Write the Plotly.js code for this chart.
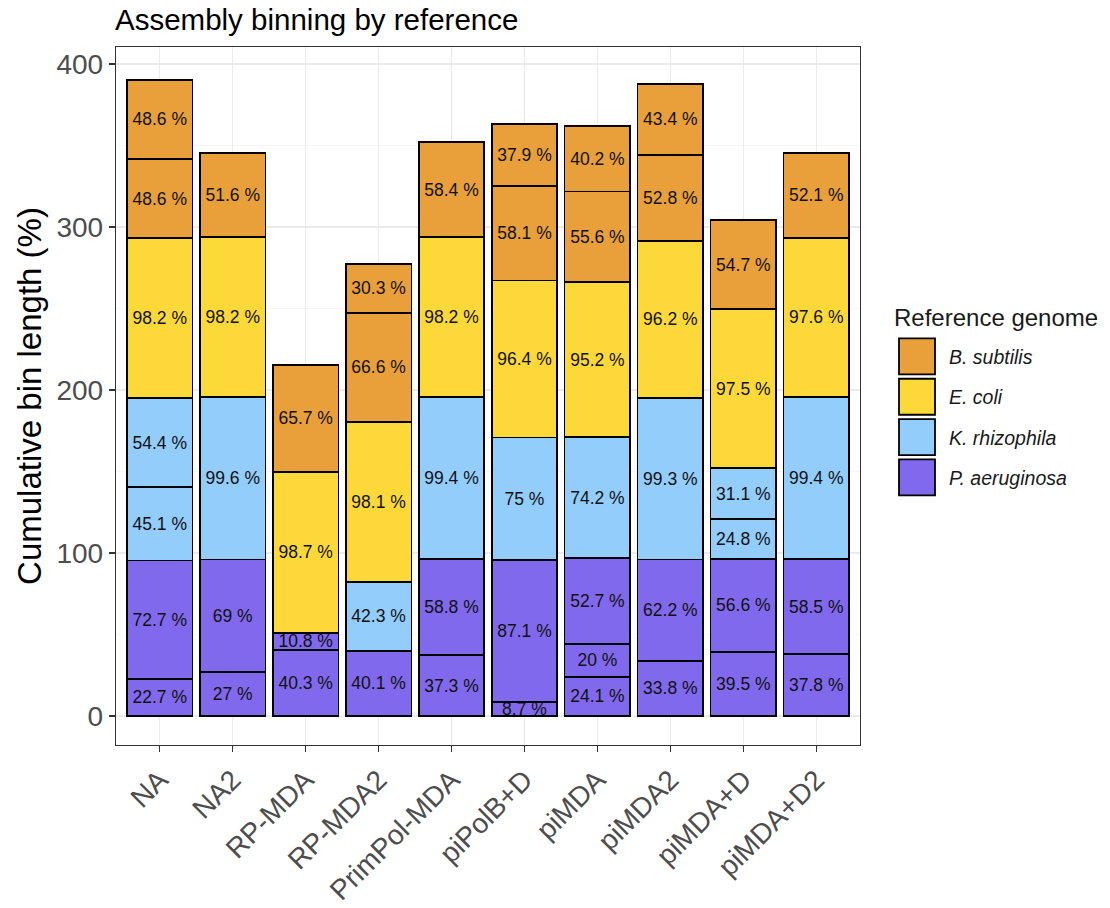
<!DOCTYPE html>
<html>
<head>
<meta charset="utf-8">
<script src="https://cdn.plot.ly/plotly-3.0.1.min.js"></script>
<style>html,body{margin:0;padding:0;background:#fff;}#chart{width:1110px;height:908px;}</style>
</head>
<body>
<div id="chart"></div>
<script>
// Categories (x axis)
const samples = ["NA", "NA2", "RP-MDA", "RP-MDA2", "PrimPol-MDA", "piPolB+D", "piMDA", "piMDA2", "piMDA+D", "piMDA+D2"];

// Bin lengths (% of reference) per genome, bins stacked bottom to top (null = no bin)
const pAeruginosaBin1 = [22.7, 27, 40.3, 40.1, 37.3, 8.7, 24.1, 33.8, 39.5, 37.8];
const pAeruginosaBin2 = [72.7, 69, 10.8, null, 58.8, 87.1, 20, 62.2, 56.6, 58.5];
const pAeruginosaBin3 = [null, null, null, null, null, null, 52.7, null, null, null];
const kRhizophilaBin1 = [45.1, 99.6, null, 42.3, 99.4, 75, 74.2, 99.3, 24.8, 99.4];
const kRhizophilaBin2 = [54.4, null, null, null, null, null, null, null, 31.1, null];
const eColiBin1 = [98.2, 98.2, 98.7, 98.1, 98.2, 96.4, 95.2, 96.2, 97.5, 97.6];
const bSubtilisBin1 = [48.6, 51.6, 65.7, 66.6, 58.4, 58.1, 55.6, 52.8, 54.7, 52.1];
const bSubtilisBin2 = [48.6, null, null, 30.3, null, 37.9, 40.2, 43.4, null, null];

const yTickVals = [0, 100, 200, 300, 400];
const yMinorVals = [50, 150, 250, 350];

// stacking order bottom -> top; legend lists them top -> bottom
const genomes = ["P. aeruginosa", "K. rhizophila", "E. coli", "B. subtilis"];
const legendRanks = {"B. subtilis": 1, "E. coli": 2, "K. rhizophila": 3, "P. aeruginosa": 4};
const genomeColors = {"P. aeruginosa": "#8069ec", "K. rhizophila": "#93cdfc", "E. coli": "#fcd939", "B. subtilis": "#e99f3a"};
const genomeBins = {
  "P. aeruginosa": [pAeruginosaBin1, pAeruginosaBin2, pAeruginosaBin3],
  "K. rhizophila": [kRhizophilaBin1, kRhizophilaBin2],
  "E. coli": [eColiBin1],
  "B. subtilis": [bSubtilisBin1, bSubtilisBin2]
};

const FONT = "Liberation Sans, Arial, Helvetica, sans-serif";

const traces = [];
genomes.forEach(g => {
  genomeBins[g].forEach((vals, i) => {
    traces.push({
      type: "bar",
      x: samples,
      y: vals,
      name: "<i>" + g + "</i>",
      legendgroup: g,
      legendrank: legendRanks[g] * 10 + i,
      showlegend: i === 0,
      marker: {color: genomeColors[g], line: {color: "#000000", width: 1.8}},
      text: vals.map(v => v === null ? "" : v + " %"),
      texttemplate: "%{text}",
      textposition: "inside",
      insidetextanchor: "middle",
      constraintext: "none",
      cliponaxis: false,
      textangle: 0,
      textfont: {family: FONT, size: 17.5, color: "#111111"},
      hoverinfo: "x+y+name"
    });
  });
});

const layout = {
  width: 1110,
  height: 908,
  barmode: "stack",
  bargap: 0.1,
  paper_bgcolor: "#ffffff",
  plot_bgcolor: "#ffffff",
  margin: {l: 116, r: 250, t: 47, b: 163},
  font: {family: FONT, color: "#000"},
  title: {
    text: "Assembly binning by reference",
    xref: "container", x: 115 / 1110, xanchor: "left",
    yref: "container", y: 1 - 20 / 908, yanchor: "middle",
    font: {size: 29.5, color: "#000"}
  },
  xaxis: {
    type: "category",
    range: [-0.6, 9.6],
    tickangle: -45,
    tickfont: {size: 28, color: "#4d4d4d"},
    ticks: "outside", ticklen: 6, tickwidth: 1.3, tickcolor: "#333333",
    showgrid: true, gridcolor: "#ebebeb", gridwidth: 1.3,
    showline: true, linecolor: "#333333", linewidth: 1.3, mirror: true,
    zeroline: false
  },
  yaxis: {
    range: [-17.8, 410.4],
    tickvals: yTickVals,
    tickfont: {size: 28, color: "#4d4d4d"},
    ticks: "outside", ticklen: 6, tickwidth: 1.3, tickcolor: "#333333",
    showgrid: true, gridcolor: "#ebebeb", gridwidth: 1.3,
    minor: {tickvals: yMinorVals, showgrid: true, gridcolor: "#f2f2f2", gridwidth: 0.8, ticks: ""},
    showline: true, linecolor: "#333333", linewidth: 1.3, mirror: true,
    zeroline: false,
    title: {text: "Cumulative bin length (%)", font: {size: 33, color: "#000"}, standoff: 4}
  },
  legend: {
    title: {text: "Reference genome", font: {size: 24, color: "#1a1a1a"}},
    traceorder: "grouped",
    xref: "container", x: 892 / 1110, xanchor: "left",
    yref: "container", y: 1 - 295 / 908, yanchor: "top",
    font: {size: 19.5, color: "#1a1a1a"},
    itemwidth: 40,
    tracegroupgap: 12,
    bgcolor: "rgba(0,0,0,0)"
  }
};

Plotly.newPlot("chart", traces, layout, {displayModeBar: false, staticPlot: true}).then(gd => {
  // enlarge legend key squares to match the reference's big keys
  gd.querySelectorAll(".legend .legendpoints path").forEach(p => {
    p.setAttribute("d", "M18,18H-18V-18H18Z");
  });
  // leave room between legend title and the enlarged keys
  gd.querySelectorAll(".legend .traces").forEach(t => {
    const tr = t.getAttribute("transform") || "";
    t.setAttribute("transform", "translate(0,11) " + tr);
  });
  // a little more gap between key and label
  gd.querySelectorAll(".legend .traces .legendtext").forEach(t => {
    const x = parseFloat(t.getAttribute("x") || "0");
    t.setAttribute("x", x + 7);
  });
  gd.querySelectorAll(".legend .scrollbox").forEach(s => s.removeAttribute("clip-path"));
});
</script>
</body>
</html>
